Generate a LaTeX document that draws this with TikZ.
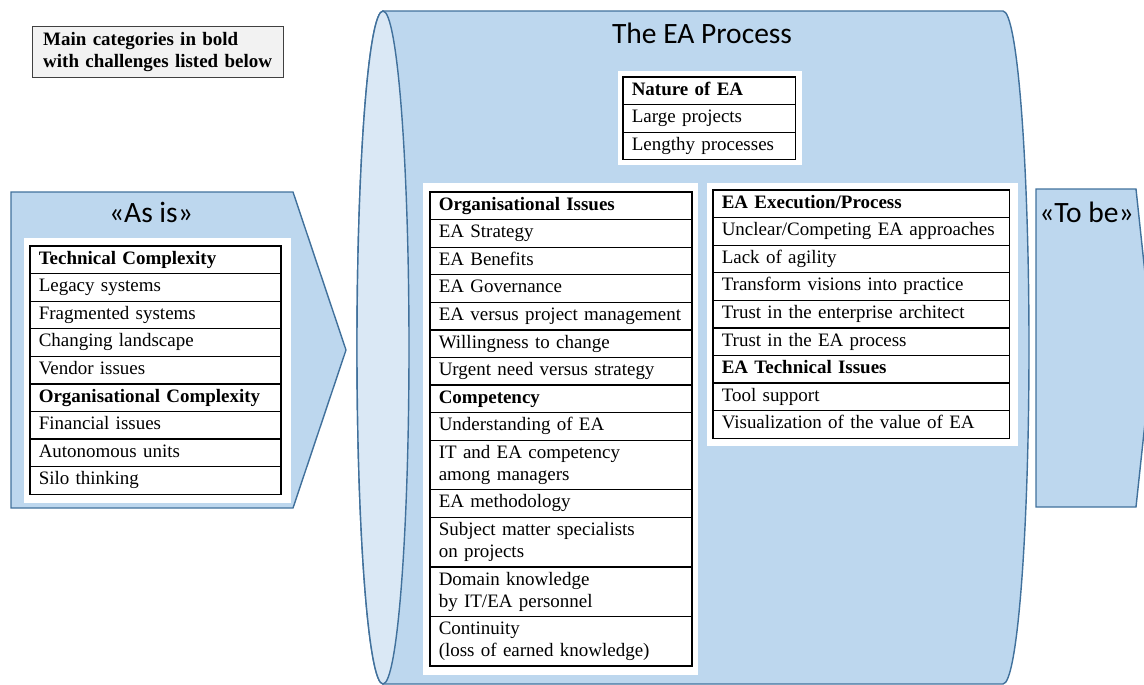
\documentclass[tikz,border=0pt]{standalone}
\usepackage{fontspec}
\setmainfont{Liberation Serif}
\newfontfamily\calibri{Carlito}
\usetikzlibrary{positioning}
\definecolor{cylfill}{HTML}{BDD7EE}
\definecolor{cylface}{HTML}{DAE8F5}
\definecolor{cylline}{HTML}{41719C}
\definecolor{notegray}{HTML}{F2F2F2}
\newcommand{\tabfont}{\fontsize{10.8pt}{12.5pt}\selectfont}
\newcommand{\headfont}{\calibri\fontsize{16.8pt}{20pt}\selectfont}
\begin{document}
\begin{tikzpicture}[x=0.02cm,y=0.02cm,
	shape3d/.style={fill=cylfill,draw=cylline,line width=0.8pt},
	cell/.style={draw,line width=0.75pt,fill=white,outer sep=0pt,inner xsep=5pt,inner ysep=1.6pt,
		text width=#1,align=left,font=\tabfont,execute at begin node=\strut,execute at end node=\strut},
	heading/.style={font=\headfont,inner sep=0pt,anchor=base}]
	\useasboundingbox (0,0) rectangle (1144,-684);
	\clip (0,0) rectangle (1144,-684);
	% cylinder of the process
	\draw[shape3d] (383,-11)--(1003,-11) arc[start angle=90,end angle=-90,x radius=26,y radius=336.5]
		--(383,-684) arc[start angle=-90,end angle=-270,x radius=26,y radius=336.5]--cycle;
	\draw[shape3d,fill=cylface] (383,-347.5) ellipse[x radius=26,y radius=336.5];
	% as is / to be
	\draw[shape3d] (11,-192)--(293,-192)--(346,-350)--(293,-508)--(11,-508)--cycle;
	\draw[shape3d] (1036,-189)--(1136,-189)--(1153,-348)--(1136,-507)--(1036,-507)--cycle;
	\node[heading] (process) at (702,-43) {The EA Process};
	\node[heading] (asis) at (151,-222) {«As is»};
	\node[heading,anchor=base west] (tobe) at (1039,-222) {«To be»};
	% note
	\node[draw=black!75,fill=notegray,line width=0.8pt,text width=130.9pt,inner xsep=6pt,minimum height=28.3pt,
		align=left,font=\tabfont,anchor=north west] (note) at (32,-26)
		{\textbf{Main categories in bold}\\\textbf{with challenges listed below}};
	% white panels
	\fill[white] (24,-238) rectangle (291,-503);
	\fill[white] (618,-71) rectangle (802,-165);
	\fill[white] (423,-183) rectangle (698,-675);
	\fill[white] (707,-183) rectangle (1018,-446);
	% tables
	\node[cell=132.9pt,anchor=north west] (tech1) at (30,-246) {\textbf{Technical Complexity}};
	\foreach \t [count=\i from 2] in {Legacy systems,Fragmented systems,Changing landscape,Vendor issues,
		\textbf{Organisational Complexity},Financial issues,Autonomous units,Silo thinking}{
		\pgfmathtruncatemacro\j{\i-1}
		\node[cell=132.9pt,below=0pt of tech\j] (tech\i) {\t};
	}
	\node[cell=88.1pt,anchor=north west] (nature1) at (623,-77) {\textbf{Nature of EA}};
	\foreach \t [count=\i from 2] in {Large projects,Lengthy processes}{
		\pgfmathtruncatemacro\j{\i-1}
		\node[cell=88.1pt,below=0pt of nature\j] (nature\i) {\t};
	}
	\node[cell=139.1pt,anchor=north west] (org1) at (430,-192) {\textbf{Organisational Issues}};
	\foreach \t [count=\i from 2] in {EA Strategy,EA Benefits,EA Governance,EA versus project management,
		Willingness to change,Urgent need versus strategy,\textbf{Competency},Understanding of EA,
		IT and EA competency\\among managers,EA methodology,Subject matter specialists\\on projects,
		{Domain knowledge\\by IT/EA personnel},Continuity\\(loss of earned knowledge)}{
		\pgfmathtruncatemacro\j{\i-1}
		\node[cell=139.1pt,below=0pt of org\j] (org\i) {\t};
	}
	\node[cell=158.9pt,anchor=north west] (exec1) at (713,-190) {\textbf{EA Execution/Process}};
	\foreach \t [count=\i from 2] in {{Unclear/Competing EA approaches},Lack of agility,Transform visions into practice,
		Trust in the enterprise architect,Trust in the EA process,\textbf{EA Technical Issues},Tool support,
		Visualization of the value of EA}{
		\pgfmathtruncatemacro\j{\i-1}
		\node[cell=158.9pt,below=0pt of exec\j] (exec\i) {\t};
	}
\end{tikzpicture}
\end{document}
